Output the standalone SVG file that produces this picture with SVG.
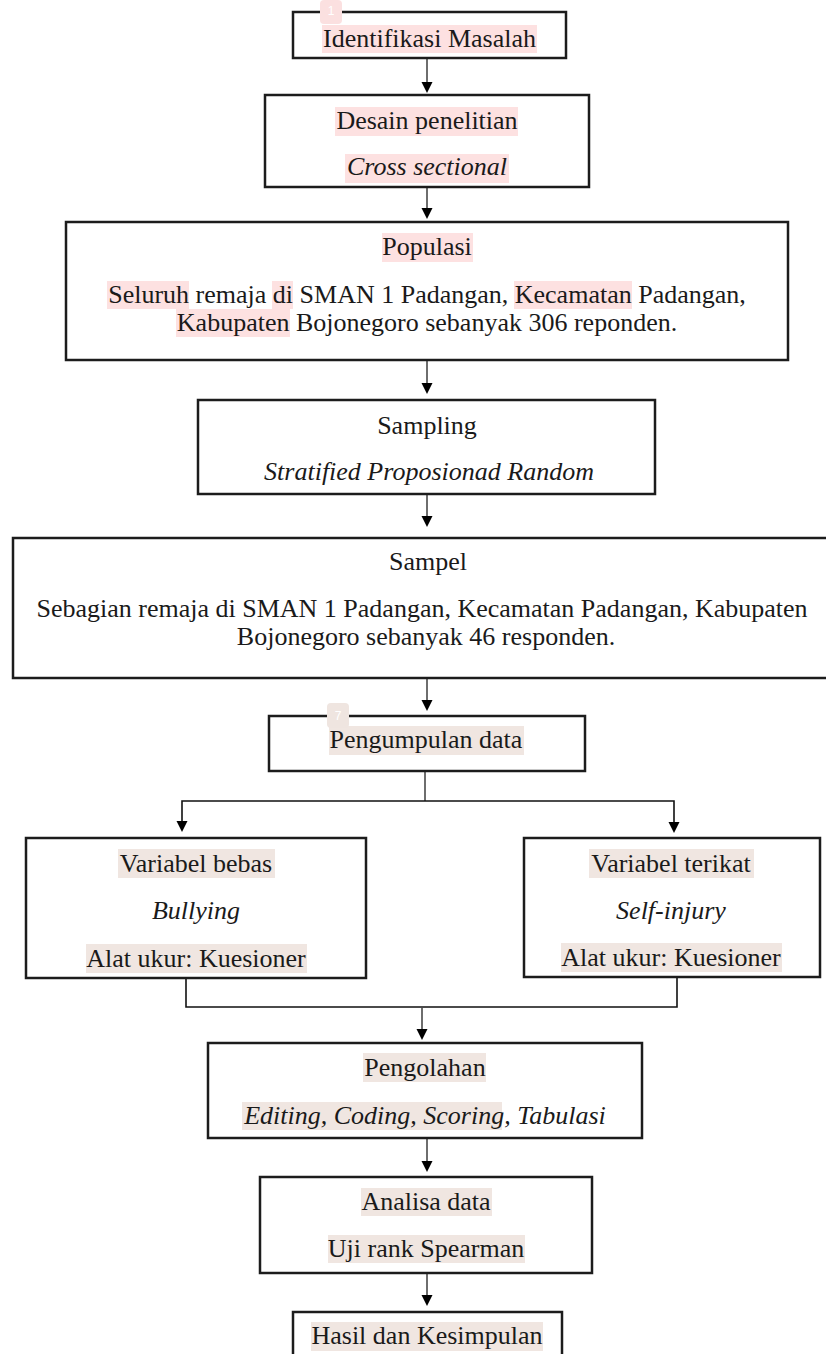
<svg xmlns="http://www.w3.org/2000/svg" width="826" height="1354" viewBox="0 0 826 1354">
<style>
.box{fill:#fff;stroke:#1c1c1c;stroke-width:2.5}
.t{font-family:"Liberation Serif","Times New Roman",serif;font-size:26px;fill:#1a1a1a;text-anchor:middle}
.i{font-style:italic}
.hp{fill:#fde1e1}
.hb{fill:#f0e6e1}
.ln{fill:none;stroke:#4a4a4a;stroke-width:1.6}
.lk{fill:none;stroke:#111;stroke-width:1.6}
.ah{fill:#000}
.badge-t{font-family:"Liberation Sans",Arial,sans-serif;font-size:12px;fill:#fff;text-anchor:middle}
</style>
<rect width="826" height="1354" fill="#fff"/>

<g id="connectors">
  <line class="ln" x1="427" y1="58" x2="427" y2="84"/>
  <polygon class="ah" points="421.5,82 432.5,82 427,93"/>
  <line class="ln" x1="427" y1="187" x2="427" y2="210"/>
  <polygon class="ah" points="421.5,208 432.5,208 427,219"/>
  <line class="ln" x1="427" y1="360" x2="427" y2="385"/>
  <polygon class="ah" points="421.5,383 432.5,383 427,394"/>
  <line class="ln" x1="427" y1="494" x2="427" y2="518"/>
  <polygon class="ah" points="421.5,516 432.5,516 427,527"/>
  <line class="ln" x1="427" y1="678" x2="427" y2="702"/>
  <polygon class="ah" points="421.5,700 432.5,700 427,711"/>
  <line class="ln" x1="425" y1="771" x2="425" y2="801"/>
  <polyline class="lk" points="182,823 182,801 674,801 674,823"/>
  <polygon class="ah" points="176.5,821 187.5,821 182,832"/>
  <polygon class="ah" points="668.5,822 679.5,822 674,833"/>
  <polyline class="lk" points="186,978 186,1007 677,1007 677,977"/>
  <line class="ln" x1="422" y1="1007" x2="422" y2="1031"/>
  <polygon class="ah" points="416.5,1029 427.5,1029 422,1040"/>
  <line class="ln" x1="427" y1="1138" x2="427" y2="1163"/>
  <polygon class="ah" points="421.5,1161 432.5,1161 427,1172"/>
  <line class="ln" x1="427" y1="1273" x2="427" y2="1297"/>
  <polygon class="ah" points="421.5,1295 432.5,1295 427,1306"/>
</g>

<g id="n1">
  <rect class="box" x="293" y="12" width="273" height="46"/>
  <rect class="hp" x="322" y="25" width="215" height="28"/>
  <text class="t" x="429.5" y="47">Identifikasi Masalah</text>
  <rect x="320" y="0" width="22" height="24" rx="4" fill="#fbe0e0"/>
  <text class="badge-t" x="331" y="15">1</text>
</g>

<g id="n2">
  <rect class="box" x="265" y="95" width="324" height="92"/>
  <rect class="hp" x="335" y="107" width="183" height="29"/>
  <text class="t" x="427" y="129">Desain penelitian</text>
  <rect class="hp" x="345" y="154" width="164" height="29"/>
  <text class="t i" x="427" y="175">Cross sectional</text>
</g>

<g id="n3">
  <rect class="box" x="66" y="222" width="722" height="138"/>
  <rect class="hp" x="382" y="233" width="91" height="29"/>
  <text class="t" x="427" y="255">Populasi</text>
  <rect class="hp" x="107" y="281" width="82" height="28"/>
  <rect class="hp" x="272" y="281" width="21" height="28"/>
  <rect class="hp" x="514" y="281" width="118" height="28"/>
  <text class="t" x="427" y="303">Seluruh remaja di SMAN 1 Padangan, Kecamatan Padangan,</text>
  <rect class="hp" x="176" y="309" width="114" height="28"/>
  <text class="t" x="427" y="331">Kabupaten Bojonegoro sebanyak 306 reponden.</text>
</g>

<g id="n4">
  <rect class="box" x="198" y="400" width="457" height="94"/>
  <text class="t" x="427" y="434">Sampling</text>
  <text class="t i" x="429" y="480">Stratified Proposionad Random</text>
</g>

<g id="n5">
  <rect class="box" x="13" y="538" width="840" height="140"/>
  <text class="t" x="428" y="570">Sampel</text>
  <text class="t" x="422" y="617">Sebagian remaja di SMAN 1 Padangan, Kecamatan Padangan, Kabupaten</text>
  <text class="t" x="426" y="645">Bojonegoro sebanyak 46 responden.</text>
</g>

<g id="n6">
  <rect class="box" x="269" y="716" width="316" height="55"/>
  <rect class="hb" x="329" y="726" width="195" height="29"/>
  <text class="t" x="426" y="748">Pengumpulan data</text>
  <rect x="327" y="703" width="22" height="25" rx="4" fill="#efe5e0"/>
  <text class="badge-t" x="338" y="720">7</text>
</g>

<g id="n7">
  <rect class="box" x="26" y="838" width="340" height="140"/>
  <rect class="hb" x="118" y="849" width="157" height="29"/>
  <text class="t" x="196" y="872">Variabel bebas</text>
  <text class="t i" x="196" y="919">Bullying</text>
  <rect class="hb" x="86" y="944" width="221" height="29"/>
  <text class="t" x="196" y="967">Alat ukur: Kuesioner</text>
</g>

<g id="n8">
  <rect class="box" x="524" y="838" width="296" height="139"/>
  <rect class="hb" x="589" y="849" width="165" height="29"/>
  <text class="t" x="671" y="872">Variabel terikat</text>
  <text class="t i" x="671" y="919">Self-injury</text>
  <rect class="hb" x="561" y="943" width="221" height="29"/>
  <text class="t" x="671" y="966">Alat ukur: Kuesioner</text>
</g>

<g id="n9">
  <rect class="box" x="208" y="1043" width="434" height="95"/>
  <rect class="hb" x="363" y="1053" width="123" height="29"/>
  <text class="t" x="425" y="1076">Pengolahan</text>
  <rect class="hb" x="242" y="1102" width="260" height="28"/>
  <text class="t i" x="425" y="1124">Editing, Coding, Scoring, Tabulasi</text>
</g>

<g id="n10">
  <rect class="box" x="260" y="1177" width="332" height="96"/>
  <rect class="hb" x="361" y="1188" width="131" height="28"/>
  <text class="t" x="426" y="1210">Analisa data</text>
  <rect class="hb" x="328" y="1235" width="197" height="28"/>
  <text class="t" x="426" y="1257">Uji rank Spearman</text>
</g>

<g id="n11">
  <rect class="box" x="293" y="1312" width="269" height="60"/>
  <rect class="hb" x="311" y="1322" width="232" height="29"/>
  <text class="t" x="427" y="1344">Hasil dan Kesimpulan</text>
</g>
</svg>
